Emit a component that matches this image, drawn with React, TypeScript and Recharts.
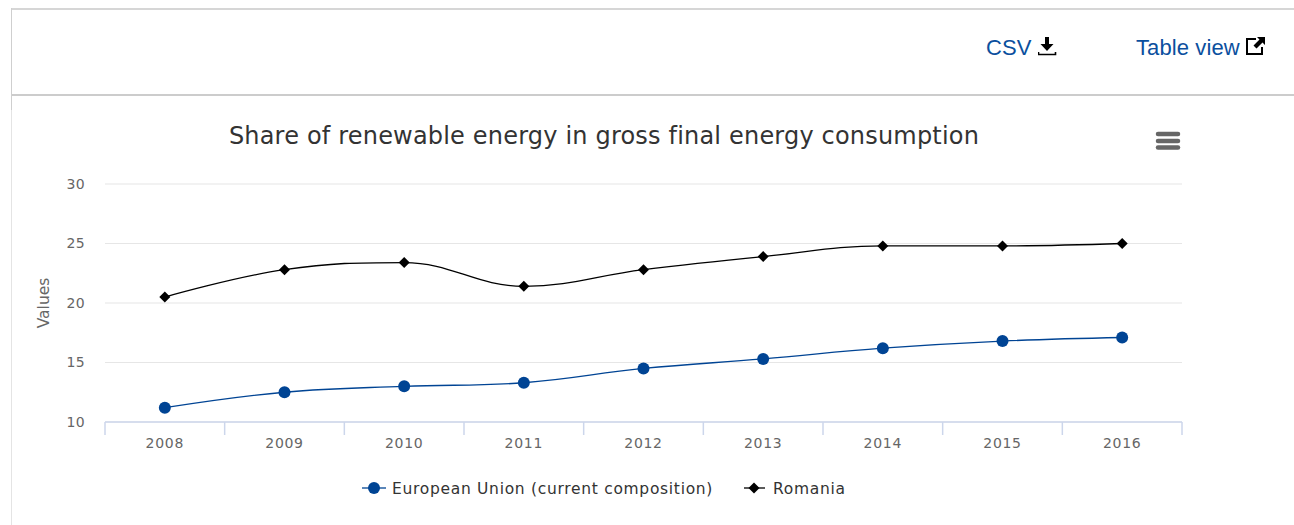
import { CartesianGrid, Legend, Line, LineChart, XAxis, YAxis } from "recharts";

const years = ["2008", "2009", "2010", "2011", "2012", "2013", "2014", "2015", "2016"];
const euValues = [11.2, 12.5, 13.0, 13.3, 14.5, 15.3, 16.2, 16.8, 17.1];
const roValues = [20.5, 22.8, 23.4, 21.4, 22.8, 23.9, 24.8, 24.8, 25.0];
const yTicks = [10, 15, 20, 25, 30];

const data = years.map((year, i) => ({ year, eu: euValues[i], ro: roValues[i] }));

const WIDTH = 1294;
const HEIGHT = 525;
const PLOT_LEFT = 105;
const PLOT_RIGHT = 112;
const PLOT_BOTTOM = 422;
const BAND = (WIDTH - PLOT_LEFT - PLOT_RIGHT) / years.length;
const FONT = '"DejaVu Sans", sans-serif';
const EU_BLUE = "#004494";
const AXIS_BLUE = "#ccd6eb";

// spline with the same control point rule Highcharts uses
const splineCurve = (context: any) => {
  let pts: [number, number][] = [];
  return {
    areaStart() {},
    areaEnd() {},
    lineStart() {
      pts = [];
    },
    lineEnd() {
      if (!pts.length) return;
      const controls = pts.map(([x, y], i) => {
        if (i === 0 || i === pts.length - 1) return { lx: x, ly: y, rx: x, ry: y };
        const [px, py] = pts[i - 1];
        const [nx, ny] = pts[i + 1];
        const lx = (1.5 * x + px) / 2.5;
        let ly = (1.5 * y + py) / 2.5;
        const rx = (1.5 * x + nx) / 2.5;
        let ry = (1.5 * y + ny) / 2.5;
        const correction = ((ry - ly) * (rx - x)) / (rx - lx) + y - ry;
        ly += correction;
        ry += correction;
        if (ly > py && ly > y) {
          ly = Math.max(py, y);
          ry = 2 * y - ly;
        } else if (ly < py && ly < y) {
          ly = Math.min(py, y);
          ry = 2 * y - ly;
        }
        if (ry > ny && ry > y) {
          ry = Math.max(ny, y);
          ly = 2 * y - ry;
        } else if (ry < ny && ry < y) {
          ry = Math.min(ny, y);
          ly = 2 * y - ry;
        }
        return { lx, ly, rx, ry };
      });
      context.moveTo(pts[0][0], pts[0][1]);
      for (let i = 1; i < pts.length; i++) {
        const a = controls[i - 1];
        const b = controls[i];
        context.bezierCurveTo(a.rx, a.ry, b.lx, b.ly, pts[i][0], pts[i][1]);
      }
    },
    point(x: number, y: number) {
      pts.push([+x, +y]);
    },
  };
};

const CategoryTick = ({ x, y, payload, index }: any) => (
  <g>
    <line x1={x - BAND / 2} x2={x - BAND / 2} y1={PLOT_BOTTOM} y2={PLOT_BOTTOM + 13} stroke={AXIS_BLUE} strokeWidth={1.5} />
    {index === years.length - 1 && (
      <line x1={x + BAND / 2} x2={x + BAND / 2} y1={PLOT_BOTTOM} y2={PLOT_BOTTOM + 13} stroke={AXIS_BLUE} strokeWidth={1.5} />
    )}
    <text x={x} y={y + 18} textAnchor="middle" fill="#666" fontSize={14} letterSpacing={0.7} fontFamily={FONT}>
      {payload.value}
    </text>
  </g>
);

const DiamondDot = ({ cx, cy, index }: any) => (
  <path key={index} d={`M${cx} ${cy - 5.5}L${cx + 5.5} ${cy}L${cx} ${cy + 5.5}L${cx - 5.5} ${cy}Z`} fill="#000" />
);

const LegendBox = () => (
  <svg width={520} height={30} style={{ display: "block" }}>
    <line x1={2} x2={26} y1={15} y2={15} stroke={EU_BLUE} strokeWidth={1.3} />
    <circle cx={14} cy={15} r={6} fill={EU_BLUE} />
    <text x={32} y={20.5} fill="#333" fontSize={15.5} letterSpacing={0.7} fontFamily={FONT}>
      European Union (current composition)
    </text>
    <line x1={384} x2={405} y1={15} y2={15} stroke="#000" strokeWidth={1.3} />
    <path d="M394 9.5L399.5 15L394 20.5L388.5 15Z" fill="#000" />
    <text x={413} y={20.5} fill="#333" fontSize={15.5} letterSpacing={0.7} fontFamily={FONT}>
      Romania
    </text>
  </svg>
);

const linkStyle = {
  position: "absolute",
  top: 34,
  fontFamily: '"Liberation Sans", sans-serif',
  fontSize: 22,
  letterSpacing: 0.1,
  lineHeight: "28px",
  color: "#0b4f9e",
} as const;

const App = () => {
  return (
    <div style={{ position: "absolute", left: 0, top: 0, width: WIDTH, height: HEIGHT, background: "#fff", overflow: "hidden" }}>
      <div style={{ position: "absolute", left: 11, top: 8, right: 0, height: 2, background: "#d6d6d6" }} />
      <div style={{ position: "absolute", left: 11, top: 94, right: 0, height: 2, background: "#cccccc" }} />
      <div style={{ position: "absolute", left: 11, top: 8, width: 1, height: 102, background: "#cfcfcf" }} />
      <div style={{ position: "absolute", left: 11, top: 110, width: 1, bottom: 0, background: "#e4e4e4" }} />

      <span style={{ ...linkStyle, left: 986 }}>CSV</span>
      <svg width={20} height={22} style={{ position: "absolute", left: 1038, top: 36 }}>
        <path d="M7 1H11V8H15.5L9 15L2.5 8H7Z" fill="#000" />
        <path d="M0.5 16V18.5H17.5V16" fill="none" stroke="#000" strokeWidth={1.6} />
      </svg>
      <span style={{ ...linkStyle, left: 1136 }}>Table view</span>
      <svg width={22} height={22} style={{ position: "absolute", left: 1246, top: 36 }}>
        <path d="M10 3H1V18H16V11" fill="none" stroke="#000" strokeWidth={2} />
        <path d="M11 1H19V9L16.5 6.5L10.5 12.5L7.5 9.5L13.5 3.5Z" fill="#000" />
      </svg>

      <div
        style={{
          position: "absolute",
          left: 0,
          width: 1208,
          top: 121,
          textAlign: "center",
          fontFamily: FONT,
          fontSize: 24,
          letterSpacing: 0.19,
          lineHeight: "30px",
          color: "#333",
          whiteSpace: "nowrap",
        }}
      >
        Share of renewable energy in gross final energy consumption
      </div>

      <svg width={30} height={24} style={{ position: "absolute", left: 1153, top: 129 }}>
        {[5, 12, 18.5].map((y) => (
          <line key={y} x1={5} x2={25} y1={y} y2={y} stroke="#666" strokeWidth={4.5} strokeLinecap="round" />
        ))}
      </svg>

      <div style={{ position: "absolute", left: 0, top: 0 }}>
        <LineChart
          width={WIDTH}
          height={HEIGHT}
          data={data}
          margin={{ top: 184, right: PLOT_RIGHT, bottom: HEIGHT - PLOT_BOTTOM - 70, left: 45 }}
        >
          <CartesianGrid horizontal vertical={false} stroke="#e6e6e6" strokeWidth={1.2} />
          <XAxis
            dataKey="year"
            scale="band"
            height={40}
            axisLine={{ stroke: AXIS_BLUE, strokeWidth: 1.5 }}
            tickLine={false}
            tick={<CategoryTick />}
            interval={0}
          />
          <YAxis
            domain={[10, 30]}
            ticks={yTicks}
            width={60}
            axisLine={false}
            tickLine={false}
            tickMargin={14}
            tick={{ fill: "#666", fontSize: 14, letterSpacing: 0.3, fontFamily: FONT }}
            label={{
              value: "Values",
              angle: -90,
              position: "insideLeft",
              offset: -2,
              fill: "#666",
              fontSize: 15.5,
              fontFamily: FONT,
              style: { textAnchor: "middle" },
            }}
          />
          <Legend content={<LegendBox />} wrapperStyle={{ position: "absolute", left: 360, top: 473, width: 520 }} />
          <Line
            dataKey="eu"
            name="European Union (current composition)"
            type={splineCurve as any}
            stroke={EU_BLUE}
            strokeWidth={1.3}
            dot={{ r: 6, fill: EU_BLUE, stroke: EU_BLUE, strokeWidth: 0 }}
            isAnimationActive={false}
          />
          <Line
            dataKey="ro"
            name="Romania"
            type={splineCurve as any}
            stroke="#000"
            strokeWidth={1.3}
            dot={<DiamondDot />}
            isAnimationActive={false}
          />
        </LineChart>
      </div>
    </div>
  );
};

export default App;
